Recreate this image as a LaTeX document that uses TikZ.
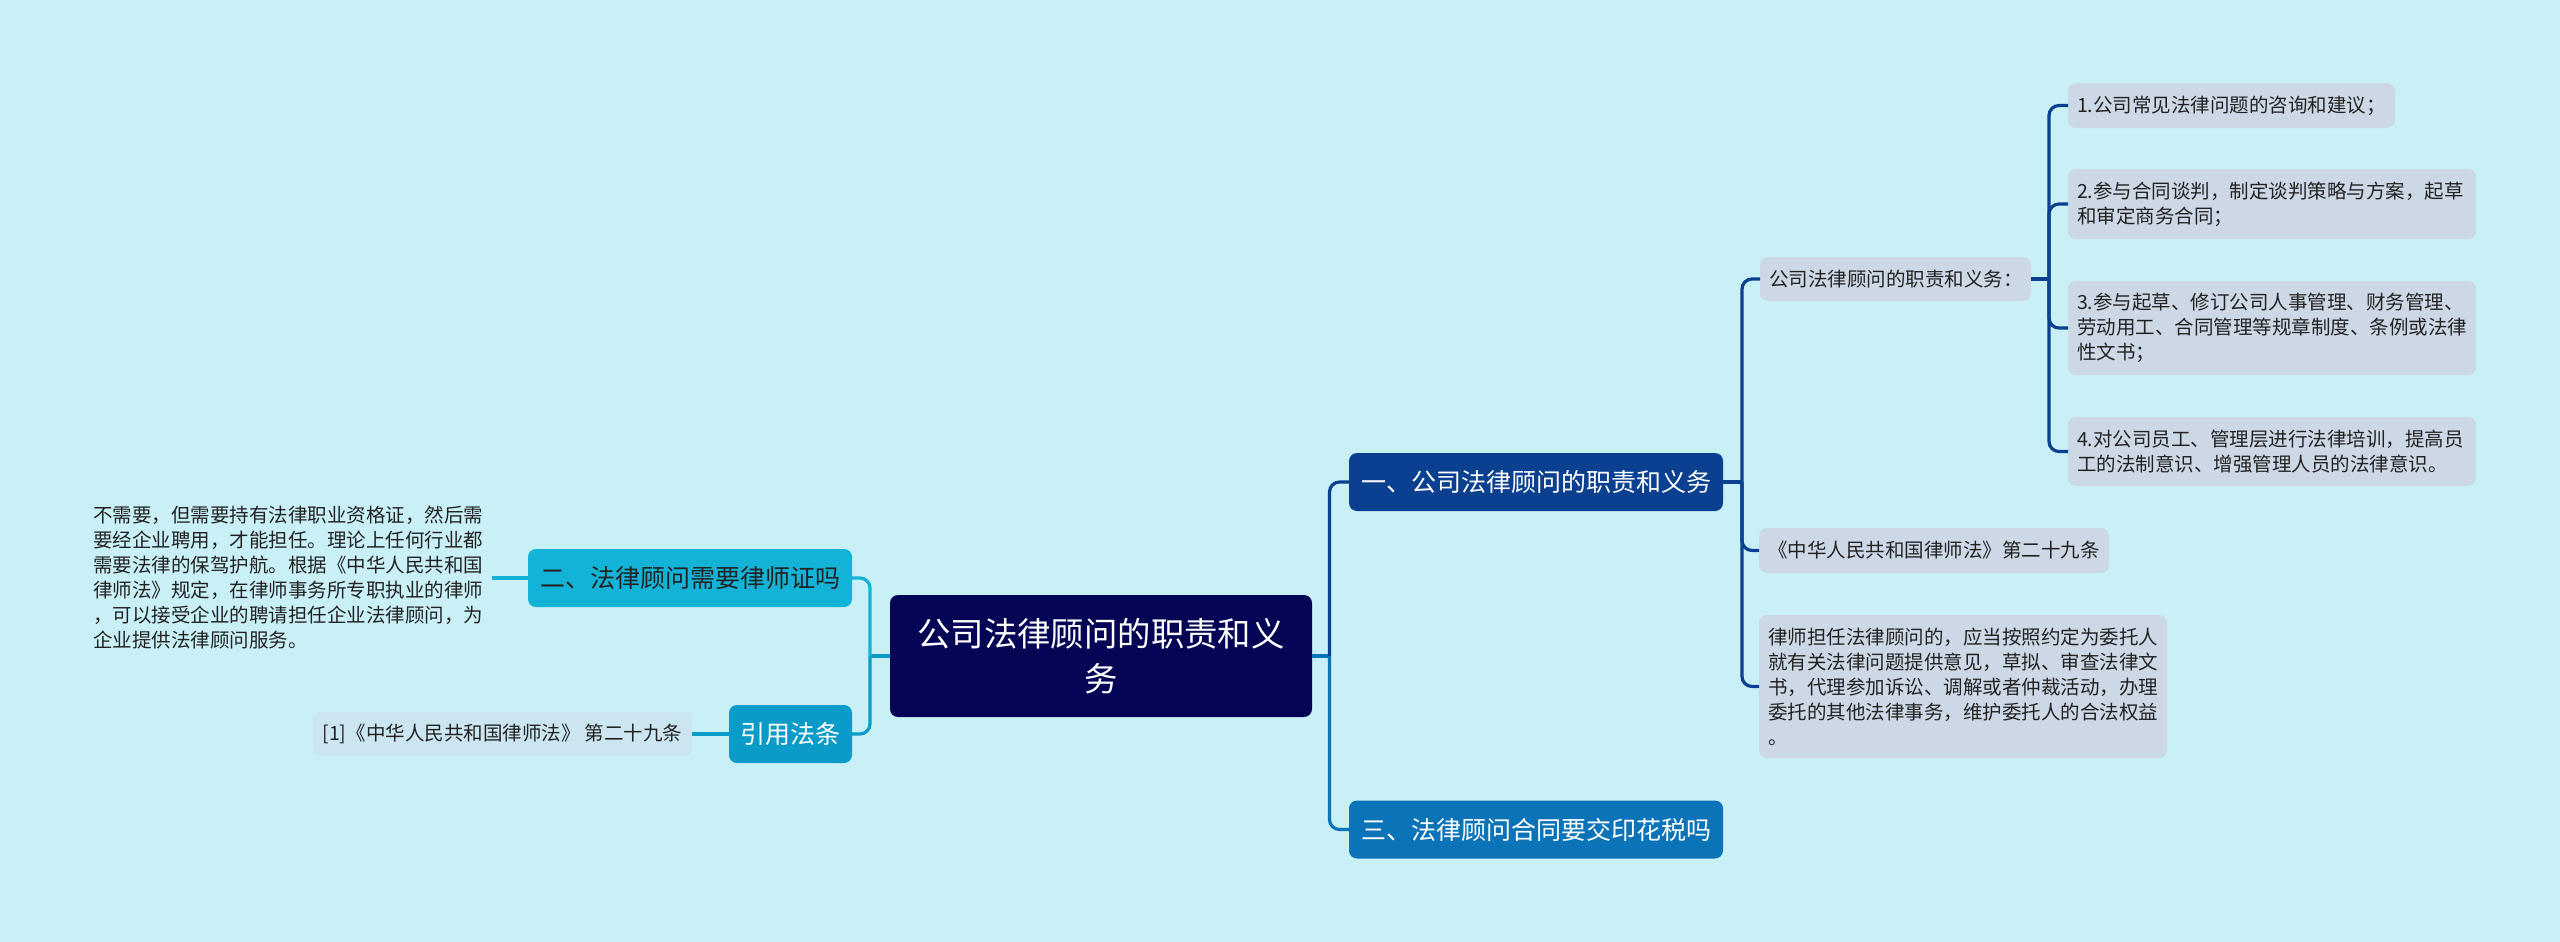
\documentclass[tikz,border=0pt]{standalone}
\usepackage{fontspec}
\setmainfont{Noto Sans CJK SC}
\definecolor{bg}{HTML}{C9F0F7}
\definecolor{rootc}{HTML}{050555}
\definecolor{cone}{HTML}{0B3F8F}
\definecolor{cthree}{HTML}{0B74B8}
\definecolor{ctwo}{HTML}{12B3D6}
\definecolor{cfour}{HTML}{0A9BC8}
\definecolor{leafc}{HTML}{CDD8E6}
\definecolor{linkc}{HTML}{CBE6F0}
\definecolor{txt}{HTML}{222222}
\begin{document}
\begin{tikzpicture}[x=0.5pt,y=-0.5pt,
  every node/.style={inner sep=0pt, outer sep=0pt},
  rootbox/.style={fill=rootc, text=white, rounded corners=4pt, minimum width=211pt, minimum height=61pt, align=center, font=\fontsize{16.7}{22.5}\selectfont},
  mainbox/.style={fill=#1, rounded corners=4pt, minimum height=29pt, align=center, font=\fontsize{12.5}{15}\selectfont},
  leafbox/.style={fill=leafc, text=txt, rounded corners=4pt, inner xsep=4.5pt, align=left, font=\fontsize{9.75}{12.5}\selectfont},
  plain/.style={text=txt, inner xsep=4.5pt, align=left, font=\fontsize{9.75}{12.5}\selectfont},
  conn/.style={line width=1.6pt, rounded corners=5pt},
]
\fill[bg] (0,0) rectangle (2560,942);
\useasboundingbox (0,0) rectangle (2560,942);

% root
\node[rootbox] (root) at (1101,656) {公司法律顾问的职责和义\\务};

% main branches
\node[mainbox=cone, text=white, minimum width=187pt] (b1) at (1536,482) {一、公司法律顾问的职责和义务};
\node[mainbox=cthree, text=white, minimum width=187pt] (b3) at (1536,829.5) {三、法律顾问合同要交印花税吗};
\node[mainbox=ctwo, text=txt, minimum width=162pt] (b2) at (690,578) {二、法律顾问需要律师证吗};
\node[mainbox=cfour, text=white, minimum width=61.5pt] (b4) at (790.5,734) {引用法条};

% left leaves
\node[plain, text width=195pt, anchor=west] (pl) at (84,578) {不需要，但需要持有法律职业资格证，然后需\\要经企业聘用，才能担任。理论上任何行业都\\需要法律的保驾护航。根据《中华人民共和国\\律师法》规定，在律师事务所专职执业的律师\\，可以接受企业的聘请担任企业法律顾问，为\\企业提供法律顾问服务。};
\node[fill=linkc, text=txt, rounded corners=4pt, minimum width=189.5pt, minimum height=22pt, font=\fontsize{9.75}{12.5}\selectfont] (lk) at (502.5,734) {[1]《中华人民共和国律师法》 第二十九条};

% right leaves
\node[leafbox, text width=126.5pt, minimum height=22pt] (l1) at (1895.5,279) {公司法律顾问的职责和义务：};
\node[leafbox, text width=166pt, minimum height=22.5pt] (l2) at (1934,550.5) {《中华人民共和国律师法》第二十九条};
\node[leafbox, text width=195pt, minimum height=71.5pt] (l3) at (1963,686.5) {律师担任法律顾问的，应当按照约定为委托人\\就有关法律问题提供意见，草拟、审查法律文\\书，代理参加诉讼、调解或者仲裁活动，办理\\委托的其他法律事务，维护委托人的合法权益\\。};

\node[leafbox, text width=154.5pt, minimum height=22.5pt] (i1) at (2231.5,105.5) {1.公司常见法律问题的咨询和建议；};
\node[leafbox, text width=195pt, minimum height=35pt] (i2) at (2272,204) {2.参与合同谈判，制定谈判策略与方案，起草\\和审定商务合同；};
\node[leafbox, text width=195pt, minimum height=47pt] (i3) at (2272,328) {3.参与起草、修订公司人事管理、财务管理、\\劳动用工、合同管理等规章制度、条例或法律\\性文书；};
\node[leafbox, text width=195pt, minimum height=34.5pt] (i4) at (2272,451.5) {4.对公司员工、管理层进行法律培训，提高员\\工的法制意识、增强管理人员的法律意识。};

% connectors left
\coordinate (jl) at (870,656);
\draw[conn, cfour] (root.west) -- (jl);
\draw[conn, ctwo] (jl) |- (b2.east);
\draw[conn, cfour] (jl) |- (b4.east);
\draw[conn, ctwo] (b2.west) -- (pl.east);
\draw[conn, cfour] (b4.west) -- (lk.east);

% connectors right
\coordinate (jr) at (1329.5,656);
\draw[conn, cthree] (root.east) -- (jr);
\draw[conn, cone] (jr) |- (b1.west);
\draw[conn, cthree] (jr) |- (b3.west);

\coordinate (ja) at (1742,482);
\draw[conn, cone] (b1.east) -- (ja);
\draw[conn, cone] (ja) |- (l1.west);
\draw[conn, cone] (ja) |- (l2.west);
\draw[conn, cone] (ja) |- (l3.west);

\coordinate (jb) at (2049,279);
\draw[conn, cone] (l1.east) -- (jb);
\draw[conn, cone] (jb) |- (i1.west);
\draw[conn, cone] (jb) |- (i2.west);
\draw[conn, cone] (jb) |- (i3.west);
\draw[conn, cone] (jb) |- (i4.west);
\end{tikzpicture}
\end{document}
